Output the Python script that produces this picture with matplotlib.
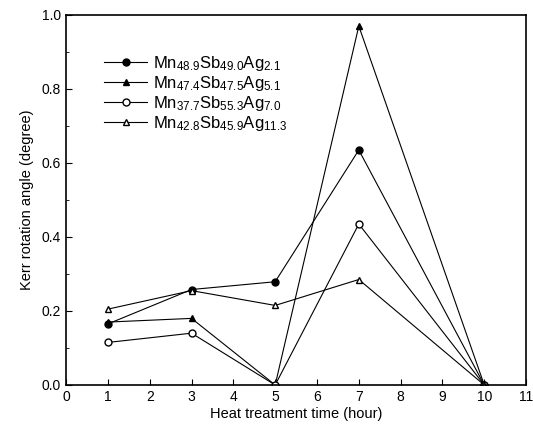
import matplotlib
matplotlib.use("Agg")
import matplotlib.pyplot as plt
from matplotlib.ticker import MultipleLocator

plt.rcParams['font.family'] = ['Liberation Sans', 'DejaVu Sans']
plt.rcParams['mathtext.fontset'] = 'custom'
plt.rcParams['mathtext.rm'] = 'Liberation Sans'

# heat treatment time (hour)
hours = [1, 3, 5, 7, 10]

# Kerr rotation angle (degree)
mn489 = [0.165, 0.258, 0.279, 0.635, 0.0]
mn474 = [0.170, 0.180, 0.0, 0.970, 0.0]
mn377 = [0.115, 0.140, 0.0, 0.435, 0.0]
mn428 = [0.205, 0.255, 0.215, 0.285, 0.0]

labels = [r'$\mathregular{Mn_{48.9}Sb_{49.0}Ag_{2.1}}$',
          r'$\mathregular{Mn_{47.4}Sb_{47.5}Ag_{5.1}}$',
          r'$\mathregular{Mn_{37.7}Sb_{55.3}Ag_{7.0}}$',
          r'$\mathregular{Mn_{42.8}Sb_{45.9}Ag_{11.3}}$']

fig = plt.figure(figsize=(5.33, 4.29), dpi=100)
ax = fig.add_axes([0.124, 0.1026, 0.863, 0.8625])

ax.plot(hours, mn489, '-o', color='black', lw=0.8, ms=5, mfc='black', label=labels[0])
ax.plot(hours, mn474, '-^', color='black', lw=0.8, ms=5, mfc='black', label=labels[1])
ax.plot(hours, mn377, '-o', color='black', lw=0.8, ms=5, mfc='white', label=labels[2])
ax.plot(hours, mn428, '-^', color='black', lw=0.8, ms=5, mfc='white', label=labels[3])

ax.set_xlim(0, 11)
ax.set_ylim(0, 1.0)
ax.xaxis.set_major_locator(MultipleLocator(1))
ax.yaxis.set_major_locator(MultipleLocator(0.2))
ax.yaxis.set_minor_locator(MultipleLocator(0.1))
ax.tick_params(direction='in', labelsize=10, length=4)
ax.tick_params(which='minor', direction='in', length=2.5)
for s in ax.spines.values():
    s.set_linewidth(1.2)

ax.set_xlabel('Heat treatment time (hour)', fontsize=10.5, labelpad=2)
ax.set_ylabel('Kerr rotation angle (degree)', fontsize=10.5, labelpad=6)

ax.legend(loc='upper left', bbox_to_anchor=(0.05, 0.935), frameon=False,
          fontsize=12, handlelength=2.6, labelspacing=0.05, handletextpad=0.35)

fig.savefig('out.png', dpi=100)
